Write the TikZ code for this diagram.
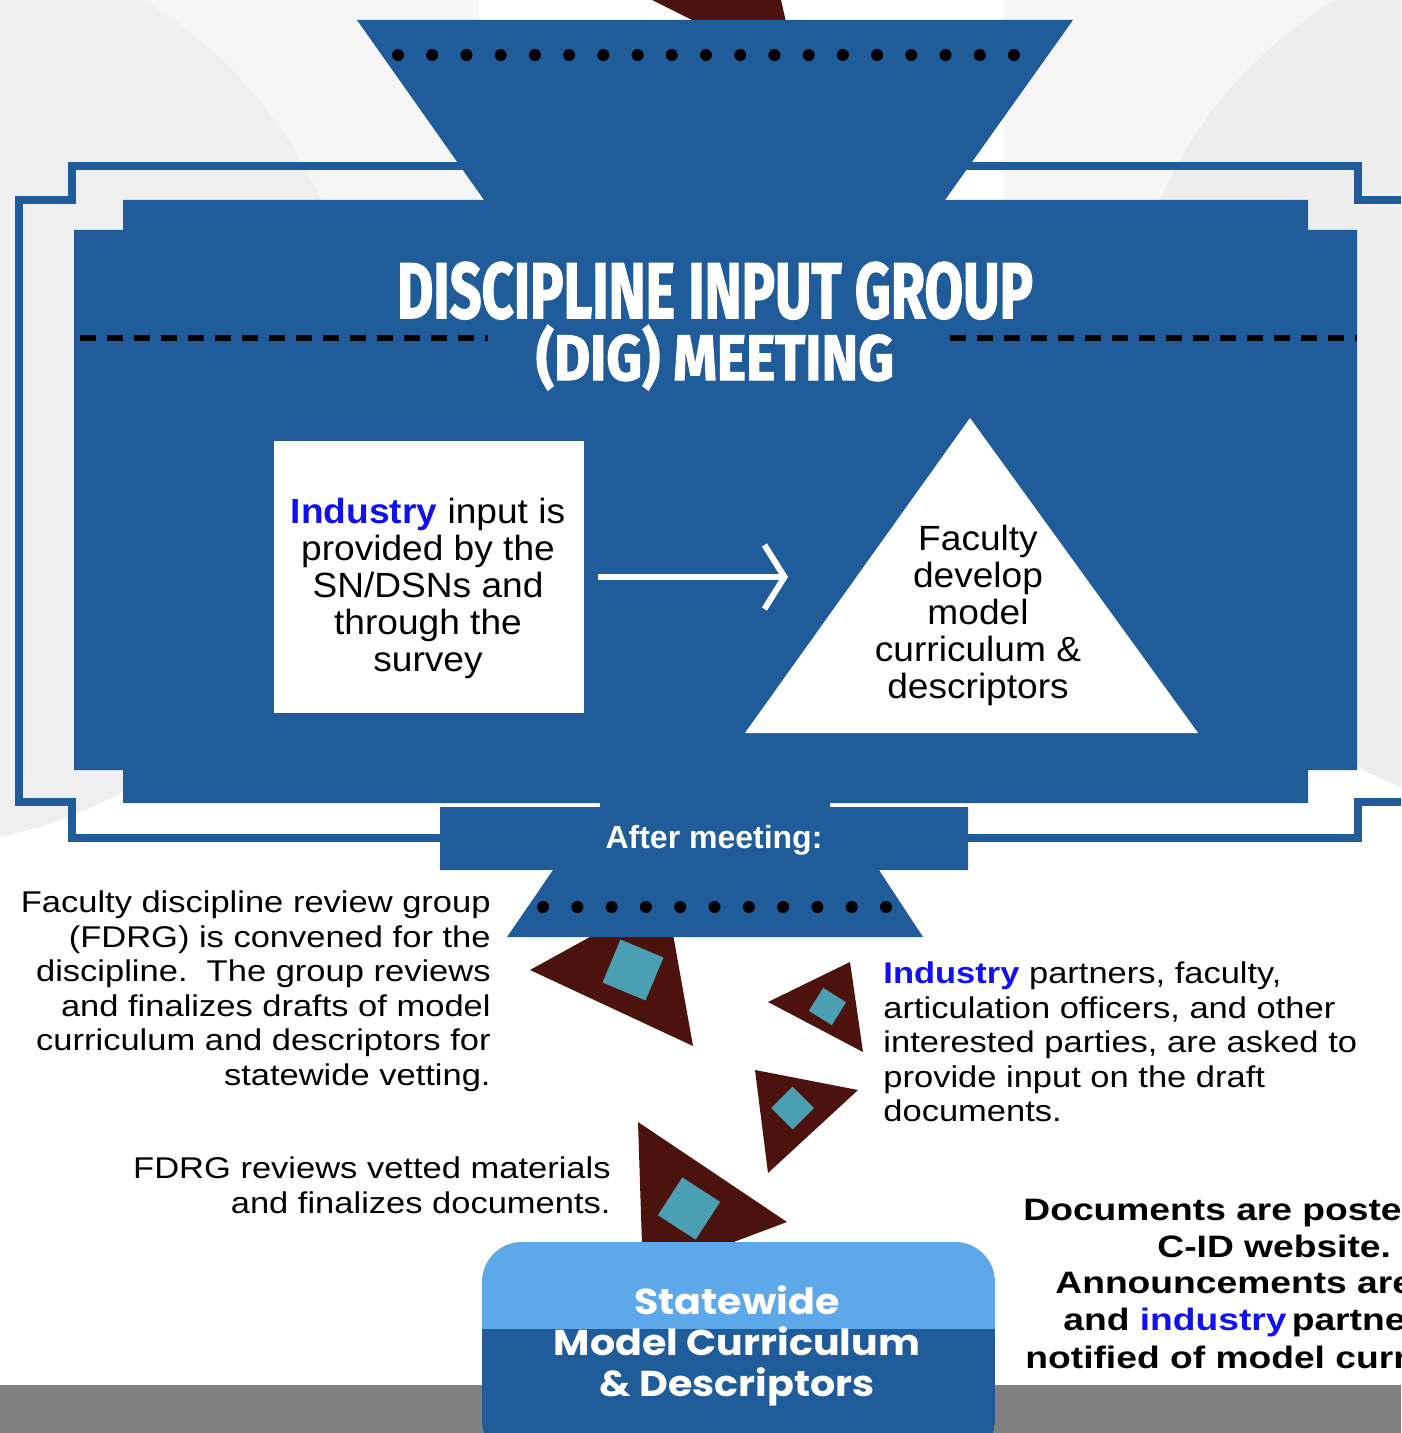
\documentclass[tikz,border=0pt]{standalone}
\usepackage{fontspec}
\usepackage{graphicx}
\usetikzlibrary{arrows.meta}
\setmainfont{Liberation Sans}
\newfontfamily\bodyfont{Liberation Sans}[FakeStretch=1.15]
\newfontfamily\boxfont{Liberation Sans}[FakeStretch=1.06]
\newfontfamily\docfont{Liberation Sans}[FakeStretch=1.2]
\newfontfamily\plainfont{Liberation Sans}
\newfontfamily\titlefont{Fira Sans}[BoldFeatures={FakeBold=2}]
\newfontfamily\swfont{Poppins}[FakeStretch=1.1]
\definecolor{digblue}{RGB}{31,92,153}
\definecolor{lightblue}{RGB}{92,168,232}
\definecolor{darkred}{RGB}{76,18,14}
\definecolor{tealsq}{RGB}{74,160,178}
\definecolor{indblue}{RGB}{17,17,240}
\definecolor{bgA}{RGB}{246,246,246}
\definecolor{bgL}{RGB}{239,239,239}
\definecolor{bgR}{RGB}{237,237,237}
\definecolor{stripgray}{RGB}{128,128,128}
\tikzset{
  frameline/.style={draw=digblue, line width=4pt, line join=miter},
  dartfill/.style={fill=darkred},
  sqfill/.style={fill=tealsq},
  dashline/.style={draw=black, line width=3pt, dash pattern=on 8pt off 5.5pt},
  bodytext/.style={inner sep=0pt, text=black, font=\bodyfont\fontsize{15}{17.3}\selectfont},
  boxtext/.style={inner sep=0pt, text=black, align=center, font=\boxfont\fontsize{17.5}{18.5}\selectfont},
  doctext/.style={inner sep=0pt, text=black, anchor=base west, font=\docfont\bfseries\fontsize{15.5}{18.5}\selectfont},
}
\begin{document}
\begin{tikzpicture}[x=0.5pt,y=-0.5pt]
\useasboundingbox (0,0) rectangle (1401,1433);
\clip (0,0) rectangle (1401,1433);
% background
\fill[white] (0,0) rectangle (1401,1433);
\fill[bgA] (0,0) rectangle (1401,500);
\fill[white] (478,0) rectangle (1004,300);
\fill[bgL] (-94,390) circle[radius=456.6];
\fill[bgR] (1564,377) circle[radius=441];
% red shape at top
\fill[darkred] (652,0) -- (781,0) -- (786,22) -- (696,22) -- cycle;
% red darts with teal squares
\fill[dartfill] (530,970) -- (693,1046) -- (666,895) -- cycle;
\fill[sqfill, rotate around={-22.7:(633,970)}] (609.7,946.7) rectangle (656.3,993.3);
\fill[dartfill] (768,1002) -- (850,962) -- (863,1052) -- cycle;
\fill[sqfill, rotate around={-32:(827.5,1006.5)}] (814,993) rectangle (841,1020);
\fill[dartfill] (755,1070) -- (858,1090) -- (768,1173) -- cycle;
\fill[sqfill, rotate around={45:(792.5,1108)}] (777.3,1092.8) rectangle (807.7,1123.2);
\fill[dartfill] (638,1122) -- (787,1222) -- (643,1276) -- cycle;
\fill[sqfill, rotate around={-33:(689,1208.5)}] (666.5,1186) rectangle (711.5,1231);
% outer frame lines
\draw[frameline] (600,166) -- (72,166) -- (72,200) -- (19,200) -- (19,802) -- (72,802) -- (72,838) -- (500,838);
\draw[frameline] (850,166) -- (1358,166) -- (1358,200) -- (1420,200);
\draw[frameline] (900,838) -- (1358,838) -- (1358,802) -- (1420,802);
% main blue body with top trapezoid
\fill[digblue] (74,230) -- (123,230) -- (123,200) -- (484,200) -- (357,20) -- (1073,20) -- (945,200)
  -- (1308,200) -- (1308,230) -- (1357,230) -- (1357,770) -- (1308,770) -- (1308,803)
  -- (123,803) -- (123,770) -- (74,770) -- cycle;
% after meeting box and lower trapezoid
\fill[digblue] (600,801) rectangle (830,809);
\fill[digblue] (440,807) -- (968,807) -- (968,870) -- (879,870) -- (923,937) -- (507,937) -- (553,870) -- (440,870) -- cycle;
% dots
\foreach \i in {0,...,18} \fill[black] (398+34.22*\i,55) circle[radius=6];
\foreach \i in {0,...,10} \fill[black] (543+34.3*\i,907) circle[radius=6];
% dashed lines
\draw[dashline] (80,338) -- (488,338);
\draw[dashline] (950,338) -- (1357,338);
% title
\node[anchor=base, inner sep=0pt, text=white] (title1) at (715,318) {\resizebox{318pt}{28pt}{\titlefont\bfseries DISCIPLINE INPUT GROUP}};
\node[anchor=base, inner sep=0pt, text=white] (title2) at (715,380) {\resizebox{179pt}{27.5pt}{\titlefont\bfseries (DIG) MEETING}};
% white box and triangle
\node[fill=white, minimum width=155pt, minimum height=136pt, inner sep=0pt] (box) at (429,577) {};
\node[boxtext, anchor=north] (boxtxt) at (428,495) {\rule{0pt}{14pt}\textbf{\textcolor{indblue}{Industry}} input is\\provided by the\\SN/DSNs and\\through the\\survey};
\fill[white] (970,418) -- (1198,733) -- (745,733) -- cycle;
\node[boxtext, anchor=north] (tritxt) at (978,522) {\rule{0pt}{14pt}Faculty\\develop\\model\\curriculum \&\\descriptors};
\coordinate (arrEnd) at (788,577);
\draw[white, line width=3pt, -{Straight Barb[length=10pt,width=32pt]}, shorten <=7pt] (box.east) -- (arrEnd);
% after meeting label
\node[anchor=base, inner sep=0pt, text=white, font=\plainfont\bfseries\fontsize{16}{18}\selectfont] (after) at (714,848) {After meeting:};
% side texts
\node[bodytext, anchor=north east, align=right] (fdrgtxt) at (491,888) {\rule{0pt}{12pt}Faculty discipline review group\\(FDRG) is convened for the\\discipline.\ \ The group reviews\\and finalizes drafts of model\\curriculum and descriptors for\\statewide vetting.};
\node[bodytext, anchor=north west, align=left] (indtxt) at (883,959) {\rule{0pt}{12pt}\textbf{\textcolor{indblue}{Industry}} partners, faculty,\\articulation officers, and other\\interested parties, are asked to\\provide input on the draft\\documents.};
\node[bodytext, anchor=north east, align=right] (revtxt) at (611,1154) {\rule{0pt}{12pt}FDRG reviews vetted materials\\and finalizes documents.};
% bottom strip and statewide box
\fill[stripgray] (0,1385) rectangle (1401,1433);
\begin{scope}
\clip[rounded corners=20pt] (482,1242) rectangle (995,1460);
\fill[lightblue] (482,1242) rectangle (995,1329);
\fill[digblue] (482,1329) rectangle (995,1460);
\end{scope}
\node[anchor=north, inner sep=0pt, align=center, text=white, font=\swfont\bfseries\fontsize{18}{20.5}\selectfont] (swtxt) at (737,1285) {\rule{0pt}{14pt}Statewide\\Model Curriculum\\\& Descriptors};
% bottom right text (cut at edge as in the reference)
\node[doctext] (doc1) at (1023,1220) {Documents are poste};
\node[doctext] (doc2) at (1157,1257) {C-ID website.};
\node[doctext] (doc3) at (1055,1293) {Announcements are};
\node[doctext] (doc4) at (1063,1330) {and \textcolor{indblue}{industry}\,partne};
\node[doctext] (doc5) at (1025,1368) {notified of model curr};
\end{tikzpicture}
\end{document}
